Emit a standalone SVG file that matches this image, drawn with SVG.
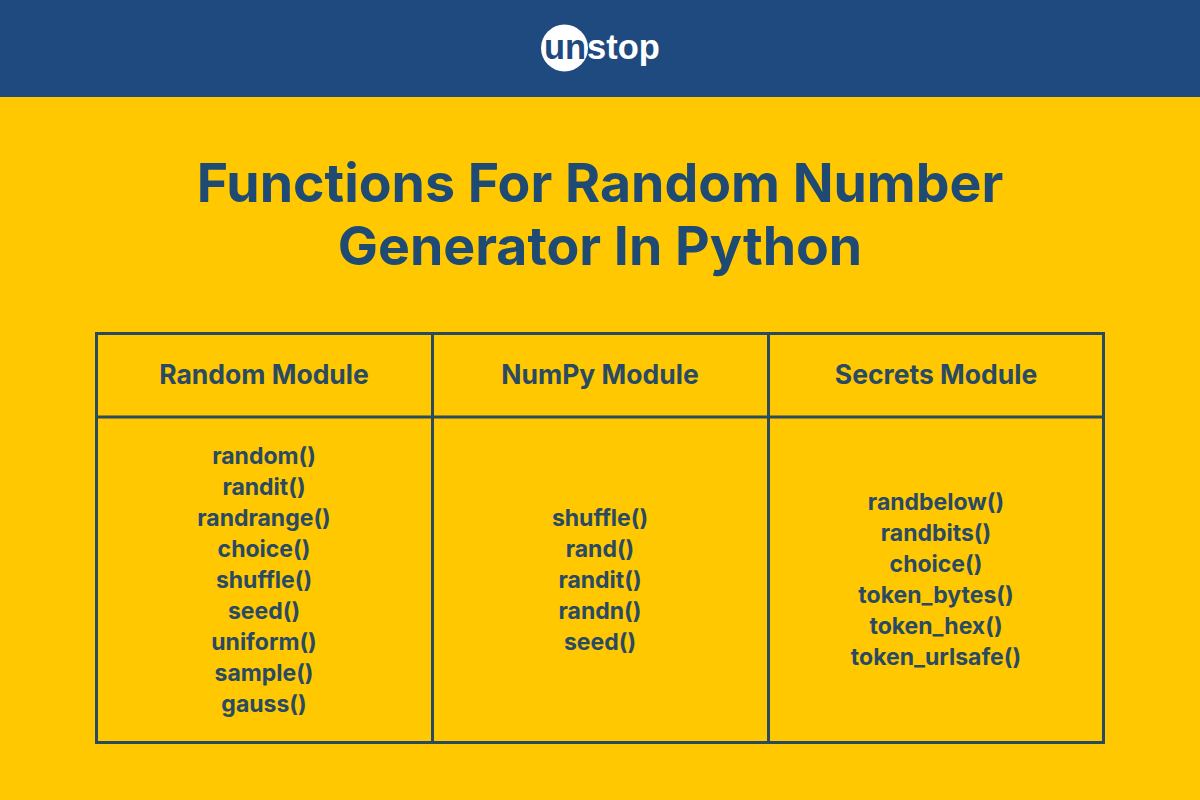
<svg xmlns="http://www.w3.org/2000/svg" width="1200" height="800" viewBox="0 0 1200 800">
<style>
.t{font-family:Inter,"Liberation Sans",sans-serif;font-weight:700;text-anchor:middle}
.h{font-size:53.6px;fill:#1f4a73}
.c{font-size:26.500px;fill:#2a4a63}
.f{font-size:23px;fill:#2a4a63}
.g{fill:none;stroke:#2b4a5e;stroke-width:3}
.l{font-family:"Liberation Sans",Arial,sans-serif;font-weight:700;font-size:34.500px}
</style>
<rect width="1200" height="800" fill="#ffc800"/>
<rect width="1200" height="97" fill="#1e4a7f"/>
<g id="logo">
<circle cx="564.500" cy="48" r="23.500" fill="#fff"/>
<text class="l" x="544" y="59" fill="#1e4a7f">un</text>
<text class="l" x="587" y="59" fill="#fff">stop</text>
</g>
<text class="t h" x="600" y="202">Functions For Random Number</text>
<text class="t h" x="600" y="265">Generator In Python</text>
<g id="table" class="g">
<rect x="96.500" y="333.500" width="1007" height="409"/>
<path d="M96 417H1104M432.500 333V743M768.500 333V743"/>
</g>
<g id="col1">
<text class="t c" x="264" y="384">Random Module</text>
<g class="t f">
<text x="264" y="464">random()</text><text x="264" y="495">randit()</text><text x="264" y="526">randrange()</text><text x="264" y="557">choice()</text><text x="264" y="588">shuffle()</text><text x="264" y="619">seed()</text><text x="264" y="650">uniform()</text><text x="264" y="681">sample()</text><text x="264" y="712">gauss()</text>
</g></g>
<g id="col2">
<text class="t c" x="600" y="384">NumPy Module</text>
<g class="t f">
<text x="600" y="526">shuffle()</text><text x="600" y="557">rand()</text><text x="600" y="588">randit()</text><text x="600" y="619">randn()</text><text x="600" y="650">seed()</text>
</g></g>
<g id="col3">
<text class="t c" x="936" y="384">Secrets Module</text>
<g class="t f">
<text x="936" y="510">randbelow()</text><text x="936" y="541">randbits()</text><text x="936" y="572">choice()</text><text x="936" y="603">token_bytes()</text><text x="936" y="634">token_hex()</text><text x="936" y="665">token_urlsafe()</text>
</g></g>
</svg>
